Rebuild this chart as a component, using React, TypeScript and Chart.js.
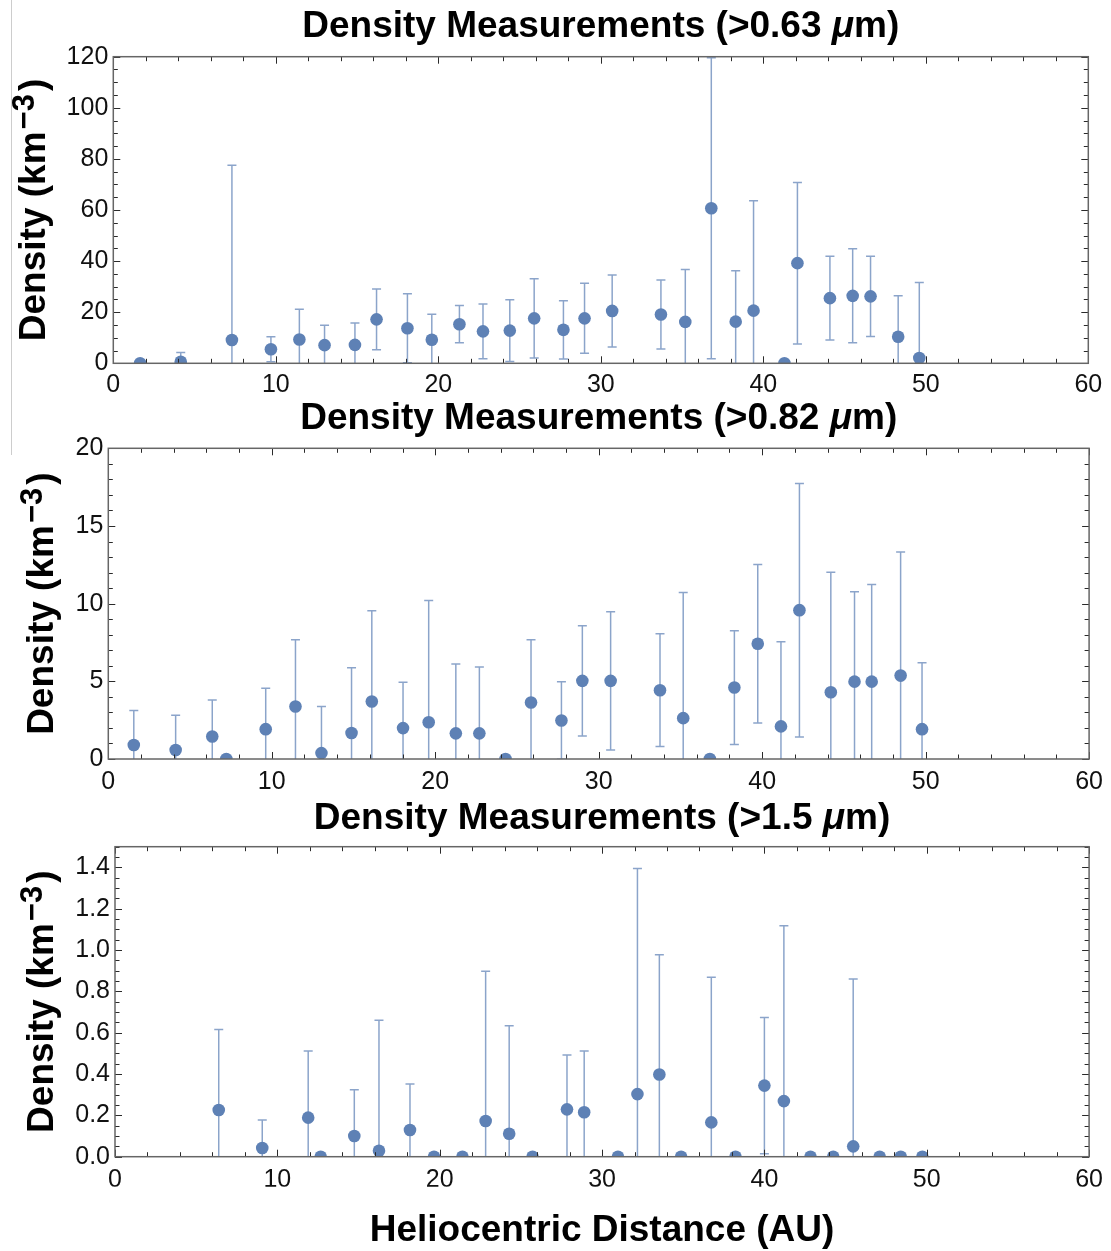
import React, { useEffect, useRef } from 'react';
import { Chart, registerables } from 'chart.js';

Chart.register(...registerables);

const FONT = '"Liberation Sans", Arial, Helvetica, sans-serif';
const POINT_COLOR = '#5E81B5';
const BAR_COLOR = 'rgba(94,129,181,0.72)';

// ---------- data: panel 1 (>0.63 µm) ----------
const distance063 = [1.65, 4.15, 7.3, 9.7, 11.45, 13.0, 14.87, 16.2, 18.1, 19.6, 21.3, 22.75, 24.4, 25.9, 27.7, 29.0, 30.7, 33.7, 35.2, 36.8, 38.3, 39.4, 41.3, 42.1, 44.1, 45.5, 46.6, 48.3, 49.6];
const density063 = [0, 0.6, 9.1, 5.5, 9.3, 7.1, 7.2, 17.2, 13.7, 9.2, 15.3, 12.5, 12.8, 17.6, 13.1, 17.6, 20.5, 19.1, 16.2, 60.7, 16.3, 20.6, 0, 39.2, 25.5, 26.4, 26.2, 10.4, 2.1];
const error063 = [0, 3.6, 68.4, 4.9, 11.9, 7.8, 8.6, 11.9, 13.5, 10.0, 7.3, 10.7, 12.1, 15.5, 11.4, 13.7, 14.1, 13.5, 20.5, 58.9, 19.9, 43.0, 0, 31.6, 16.4, 18.4, 15.7, 16.0, 29.5];
const yTicks063 = [0, 20, 40, 60, 80, 100, 120];

// ---------- data: panel 2 (>0.82 µm) ----------
const distance082 = [1.56, 4.12, 6.36, 7.22, 9.63, 11.45, 13.04, 14.88, 16.12, 18.03, 19.6, 21.26, 22.7, 24.3, 25.86, 27.72, 29.0, 30.73, 33.75, 35.17, 36.8, 38.3, 39.73, 41.15, 42.28, 44.2, 45.65, 46.7, 48.47, 49.78];
const density082 = [0.9, 0.58, 1.45, 0, 1.92, 3.38, 0.38, 1.67, 3.7, 1.99, 2.37, 1.65, 1.65, 0, 3.64, 2.48, 5.03, 5.03, 4.43, 2.63, 0, 4.6, 7.42, 2.1, 9.58, 4.3, 4.98, 4.98, 5.37, 1.92];
const error082 = [2.22, 2.24, 2.35, 0, 2.63, 4.3, 3.0, 4.21, 5.84, 2.95, 7.83, 4.47, 4.28, 0, 4.04, 2.5, 3.55, 4.45, 3.63, 8.09, 0, 3.66, 5.1, 5.45, 8.16, 7.72, 5.78, 6.25, 7.96, 4.28];
const yTicks082 = [0, 5, 10, 15, 20];

// ---------- data: panel 3 (>1.5 µm) ----------
const distance150 = [6.39, 9.07, 11.9, 12.67, 14.74, 16.26, 18.17, 19.65, 21.4, 22.83, 24.28, 25.72, 27.84, 28.9, 30.98, 32.18, 33.53, 34.87, 36.73, 38.22, 40.0, 41.2, 42.84, 44.24, 45.47, 47.1, 48.4, 49.73];
const density150 = [0.226, 0.042, 0.189, 0, 0.1, 0.029, 0.129, 0, 0, 0.173, 0.111, 0, 0.229, 0.215, 0, 0.303, 0.398, 0, 0.166, 0, 0.344, 0.269, 0, 0, 0.05, 0, 0, 0];
const error150 = [0.39, 0.135, 0.322, 0, 0.224, 0.631, 0.223, 0, 0, 0.724, 0.523, 0, 0.263, 0.296, 0, 1.092, 0.579, 0, 0.702, 0, 0.33, 0.849, 0, 0, 0.81, 0, 0, 0];
const yTicks150 = [0, 0.2, 0.4, 0.6, 0.8, 1.0, 1.2, 1.4];

const xTicks = [0, 10, 20, 30, 40, 50, 60];

type Seg = { text: string; font: string; dy?: number; gapBefore?: number; gapAfter?: number };

const bold = (s: number) => `bold ${s}px ${FONT}`;

function drawRich(ctx: CanvasRenderingContext2D, segs: Seg[], cx: number, baseline: number) {
  let total = 0;
  const widths = segs.map((s) => {
    ctx.font = s.font;
    const w = ctx.measureText(s.text).width;
    total += w + (s.gapBefore || 0) + (s.gapAfter || 0);
    return w;
  });
  let x = cx - total / 2;
  ctx.textAlign = 'left';
  ctx.textBaseline = 'alphabetic';
  segs.forEach((s, i) => {
    x += s.gapBefore || 0;
    ctx.font = s.font;
    ctx.fillText(s.text, x, baseline + (s.dy || 0));
    x += widths[i] + (s.gapAfter || 0);
  });
}

const titleSegs = (size: string): Seg[] => [
  { text: `Density Measurements (>${size} `, font: bold(37) },
  { text: 'μ', font: `italic bold 37px ${FONT}` },
  { text: 'm)', font: bold(37) },
];

const yLabelSegs: Seg[] = [
  { text: 'Density (km', font: bold(37) },
  { text: '−3', font: bold(31), dy: -11, gapBefore: 2, gapAfter: 3 },
  { text: ')', font: bold(37) },
];

const errorBarPlugin = {
  id: 'errorBars',
  beforeDatasetsDraw(chart: any) {
    const o = chart.options.plugins.errorBars;
    if (!o) return;
    const { ctx, chartArea: ca, scales } = chart;
    const xs = scales.x;
    const ys = scales.y;
    const pts = chart.data.datasets[0].data;
    ctx.save();
    ctx.beginPath();
    ctx.rect(ca.left, ca.top, ca.right - ca.left, ca.bottom - ca.top);
    ctx.clip();
    ctx.strokeStyle = BAR_COLOR;
    ctx.lineWidth = 1.5;
    pts.forEach((p: any, i: number) => {
      const e = o.errors[i];
      if (!e) return;
      const px = xs.getPixelForValue(p.x);
      const top = ys.getPixelForValue(p.y + e);
      const bot = ys.getPixelForValue(p.y - e);
      ctx.beginPath();
      ctx.moveTo(px, top);
      ctx.lineTo(px, bot);
      ctx.moveTo(px - 4.5, top);
      ctx.lineTo(px + 4.5, top);
      ctx.moveTo(px - 4.5, bot);
      ctx.lineTo(px + 4.5, bot);
      ctx.stroke();
    });
    ctx.restore();
  },
};

const framePlugin = {
  id: 'frame',
  afterDatasetsDraw(chart: any) {
    const o = chart.options.plugins.frame;
    const { ctx, chartArea: ca, scales } = chart;
    const xs = scales.x;
    const ys = scales.y;
    ctx.save();
    ctx.strokeStyle = '#2a2a2a';
    ctx.lineWidth = 1;
    const isMajor = (v: number, m: number) => Math.abs(v / m - Math.round(v / m)) < 1e-6;
    ctx.beginPath();
    for (let k = 0; ; k++) {
      const v = xs.min + k * o.xMinor;
      if (v > xs.max + 1e-9) break;
      const len = isMajor(v, o.xMajor) ? 7 : 4.5;
      const px = Math.round(xs.getPixelForValue(v)) + 0.5;
      ctx.moveTo(px, ca.bottom);
      ctx.lineTo(px, ca.bottom - len);
      ctx.moveTo(px, ca.top);
      ctx.lineTo(px, ca.top + len);
    }
    for (let k = 0; ; k++) {
      const v = ys.min + k * o.yMinor;
      if (v > ys.max + 1e-9) break;
      const len = isMajor(v, o.yMajor) ? 7 : 4.5;
      const py = Math.round(ys.getPixelForValue(v)) + 0.5;
      ctx.moveTo(ca.left, py);
      ctx.lineTo(ca.left + len, py);
      ctx.moveTo(ca.right, py);
      ctx.lineTo(ca.right - len, py);
    }
    ctx.stroke();
    ctx.strokeStyle = '#666666';
    ctx.lineWidth = 1.5;
    ctx.strokeRect(ca.left, ca.top, ca.right - ca.left, ca.bottom - ca.top);
    ctx.restore();
  },
};

const decorPlugin = {
  id: 'decor',
  afterDraw(chart: any) {
    const o = chart.options.plugins.decor;
    const { ctx, chartArea: ca } = chart;
    ctx.save();
    ctx.fillStyle = '#000';
    drawRich(ctx, o.title, (ca.left + ca.right) / 2, o.titleBaseline);
    if (o.xTitle) drawRich(ctx, o.xTitle, (ca.left + ca.right) / 2, o.xTitleBaseline);
    ctx.translate(o.yLabelX, (ca.top + ca.bottom) / 2);
    ctx.rotate(-Math.PI / 2);
    drawRich(ctx, yLabelSegs, 0, 0);
    ctx.restore();
  },
};

type PanelProps = {
  top: number;
  height: number;
  L: number;
  R: number;
  T: number;
  B: number;
  xs: number[];
  ys: number[];
  errs: number[];
  yMax: number;
  yTicks: number[];
  yDecimals: number;
  yMinor: number;
  yMajor: number;
  title: Seg[];
  titleBaseline: number;
  yLabelX: number;
  xPad: number;
  xTitle?: Seg[];
  xTitleBaseline?: number;
};

const W = 1111;
const Y_AXIS_W = 90;
const X_AXIS_H = 30;

function Panel(p: PanelProps) {
  const ref = useRef<HTMLCanvasElement | null>(null);
  useEffect(() => {
    if (!ref.current) return;
    const tickFont = { family: FONT, size: 25 };
    const chart = new Chart(ref.current, {
      type: 'scatter',
      data: {
        datasets: [
          {
            data: p.xs.map((x, i) => ({ x, y: p.ys[i] })),
            pointRadius: 6.3,
            pointHoverRadius: 6.3,
            pointBackgroundColor: POINT_COLOR,
            pointBorderWidth: 0,
            borderWidth: 0,
            showLine: false,
            clip: 0,
          } as any,
        ],
      },
      options: {
        animation: false,
        responsive: false,
        events: [],
        layout: {
          padding: {
            left: p.L - Y_AXIS_W,
            right: W - p.R,
            top: p.T - p.top,
            bottom: p.height - (p.B - p.top) - X_AXIS_H,
          },
        },
        scales: {
          x: {
            type: 'linear',
            min: 0,
            max: 60,
            afterBuildTicks: (s: any) => {
              s.ticks = xTicks.map((v) => ({ value: v }));
            },
            afterFit: (s: any) => {
              s.height = X_AXIS_H;
            },
            ticks: {
              font: tickFont,
              color: '#111',
              padding: p.xPad,
              maxRotation: 0,
              autoSkip: false,
              callback: (v: any) => String(v),
            },
            grid: { display: false, drawTicks: false },
            border: { display: false },
          },
          y: {
            type: 'linear',
            min: 0,
            max: p.yMax,
            afterBuildTicks: (s: any) => {
              s.ticks = p.yTicks.map((v) => ({ value: v }));
            },
            afterFit: (s: any) => {
              s.width = Y_AXIS_W;
            },
            ticks: {
              font: tickFont,
              color: '#111',
              padding: 5,
              autoSkip: false,
              callback: (v: any) => Number(v).toFixed(p.yDecimals),
            },
            grid: { display: false, drawTicks: false },
            border: { display: false },
          },
        },
        plugins: {
          legend: { display: false },
          tooltip: { enabled: false },
          title: { display: false },
          errorBars: { errors: p.errs },
          frame: { xMinor: 2, xMajor: 10, yMinor: p.yMinor, yMajor: p.yMajor },
          decor: {
            title: p.title,
            titleBaseline: p.titleBaseline - p.top,
            yLabelX: p.yLabelX,
            xTitle: p.xTitle,
            xTitleBaseline: (p.xTitleBaseline || 0) - p.top,
          },
        } as any,
      },
      plugins: [errorBarPlugin, framePlugin, decorPlugin],
    } as any);
    return () => chart.destroy();
  }, []);
  return (
    <canvas
      ref={ref}
      width={W}
      height={p.height}
      style={{ position: 'absolute', left: 0, top: p.top, width: W, height: p.height }}
    />
  );
}

const xTitleSegs: Seg[] = [{ text: 'Heliocentric Distance (AU)', font: bold(37) }];

export default function App() {
  return (
    <div style={{ position: 'absolute', left: 0, top: 0, width: W, height: 1251, background: '#fff', overflow: 'hidden' }}>
      <div style={{ position: 'absolute', left: 11, top: 0, width: 1, height: 455, background: '#cdcdcd' }} />
      <Panel
        top={0}
        height={400}
        L={113.3}
        R={1088.3}
        T={56.7}
        B={363.3}
        xs={distance063}
        ys={density063}
        errs={error063}
        yMax={120}
        yTicks={yTicks063}
        yDecimals={0}
        yMinor={5}
        yMajor={20}
        title={titleSegs('0.63')}
        titleBaseline={37}
        yLabelX={45}
        xPad={7}
      />
      <Panel
        top={400}
        height={395}
        L={108.3}
        R={1093.3}
        T={448.3}
        B={759}
        xs={distance082}
        ys={density082}
        errs={error082}
        yMax={20}
        yTicks={yTicks082}
        yDecimals={0}
        yMinor={1}
        yMajor={5}
        title={titleSegs('0.82')}
        titleBaseline={429}
        yLabelX={52.5}
        xPad={8}
      />
      <Panel
        top={795}
        height={456}
        L={115}
        R={1098.3}
        T={846.7}
        B={1156.7}
        xs={distance150}
        ys={density150}
        errs={error150}
        yMax={1.5}
        yTicks={yTicks150}
        yDecimals={1}
        yMinor={0.05}
        yMajor={0.2}
        title={titleSegs('1.5')}
        titleBaseline={829}
        yLabelX={53}
        xPad={8}
        xTitle={xTitleSegs}
        xTitleBaseline={1241}
      />
    </div>
  );
}
